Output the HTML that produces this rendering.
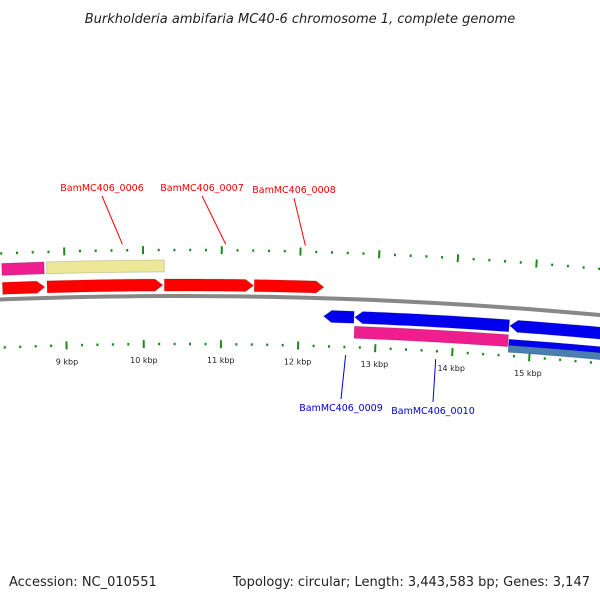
<!DOCTYPE html>
<html><head><meta charset="utf-8"><style>
body{margin:0;background:#fff;}
svg{display:block;font-family:"DejaVu Sans","Liberation Sans",sans-serif;}
</style></head><body>
<svg id="map" width="600" height="600" viewBox="0 0 600 600">
<text x="300" y="23" text-anchor="middle" font-size="13" font-style="italic" fill="#222">Burkholderia ambifaria MC40-6 chromosome 1, complete genome</text>
<text x="9" y="586" font-size="13" fill="#222">Accession: NC_010551</text>
<text x="590" y="586" text-anchor="end" font-size="13" fill="#222">Topology: circular; Length: 3,443,583 bp; Genes: 3,147</text>
<g id="g"></g>
</svg>
<script>
// gene data (kbp)
const geneStarts = [8.2, 8.77, 10.27, 11.42, 8.2, 8.77, 12.32, 12.72, 14.72, 12.72, 14.72, 14.72];
const geneEnds   = [8.74, 10.25, 11.41, 12.31, 8.74, 10.27, 12.71, 14.71, 16.0, 14.71, 16.0, 16.0];
const geneStrand = [1,1,1,1,1,1,-1,-1,-1,-1,-1,-1];
const geneRow    = [0,0,0,0,1,1,0,0,0,1,1,2];
const geneColor  = ["#ff0000","#ff0000","#ff0000","#ff0000","#ee1e8e","#ece898","#0000ee","#0000ee","#0000ee","#ee1e8e","#0000ee","#4a7fb0"];
const geneArrow  = [1,1,1,1,0,0,1,1,1,0,0,0];
const tickLabels = ["9 kbp","10 kbp","11 kbp","12 kbp","13 kbp","14 kbp","15 kbp"];
const tickValues = [9,10,11,12,13,14,15];
const geneLabels = ["BamMC406_0006","BamMC406_0007","BamMC406_0008","BamMC406_0009","BamMC406_0010"];
const labelKbp   = [9.74, 11.05, 12.06, 12.62, 13.79];

const NS="http://www.w3.org/2000/svg";
const g=document.getElementById('g');
const R=4642, cx=180, cy=296+R, k0=10.47, pxPerKbp=78;
function ang(k){return (k-k0)*pxPerKbp/R;}
function pt(k,r){const a=ang(k);return [cx+r*Math.sin(a), cy-r*Math.cos(a)];}
function mk(tag,attrs){const e=document.createElementNS(NS,tag);for(const k in attrs)e.setAttribute(k,attrs[k]);g.appendChild(e);return e;}
function arcPts(k1,k2,r){const p=[];const n=20;for(let i=0;i<=n;i++){p.push(pt(k1+(k2-k1)*i/n,r));}return p;}

// backbone
let bb=arcPts(7.9,16.2,R).map(p=>p.join(',')).join(' ');
let bl=mk('polyline',{points:bb,fill:'none',stroke:'#888',"stroke-width":4});



// ticks
for(let i=0;i<=45;i++){
  const k=7.8+i*0.2;
  const major=Math.abs(k-Math.round(k))<0.01;
  const len=major?8:2.5;
  [[R+46],[R-48]].forEach(([rc])=>{
    const a=pt(k,rc-len/2), b=pt(k,rc+len/2);
    const t=mk('line',{x1:a[0],y1:a[1],x2:b[0],y2:b[1],stroke:'#1a8a1a',"stroke-width":2});
    
    
  });
}
tickValues.forEach((v,i)=>{
  const p=pt(v,R-67);
  const t=mk('text',{x:p[0],y:p[1],"text-anchor":"middle","font-size":8,fill:'#222'});
  t.textContent=tickLabels[i];
  
  
});

// genes
const rowR={'1_0':R+11,'1_1':R+30,'-1_0':R-18,'-1_1':R-33,'-1_2':R-41};
geneStarts.forEach((s,i)=>{
  const st=geneStrand[i];
  let rc=rowR[st+'_'+geneRow[i]];
  let h=12;
  if(st<0&&geneRow[i]>=1&&i>=10){h=7; if(geneRow[i]===1)rc=R-35;}
  const e=geneEnds[i], aw=geneArrow[i]?0.1:0;
  let outer, inner, tip=[];
  if(st>0){
    outer=arcPts(s,e-aw,rc+h/2); inner=arcPts(s,e-aw,rc-h/2).reverse();
    if(aw)tip=[pt(e,rc)];
    var pts=outer.concat(tip,inner);
  } else {
    outer=arcPts(s+aw,e,rc+h/2); inner=arcPts(s+aw,e,rc-h/2).reverse();
    if(aw)tip=[pt(s,rc)];
    var pts=outer.concat(inner,tip);
  }
  const p=mk('polygon',{points:pts.map(q=>q.join(',')).join(' '),fill:geneColor[i],stroke:'rgba(0,0,0,0.15)',"stroke-width":1});
  
  
});

// labels
labelKbp.forEach((k,i)=>{
  const top=i<3;
  const col=top?'#ff0000':'#0000dd';
  const a=pt(k,top?R+52:R-56);
  const tx=[102,202,294,341,433][i], ty=[188,188,190,408,411][i];
  const ly=top?ty+8:ty-9;
  const l=mk('line',{x1:a[0],y1:a[1],x2:tx,y2:ly,stroke:col,"stroke-width":1});
  
  
  const t=mk('text',{x:tx,y:ty+3,"text-anchor":"middle","font-size":9.5,fill:col});
  t.textContent=geneLabels[i];
  
  
});
</script>
</body></html>
